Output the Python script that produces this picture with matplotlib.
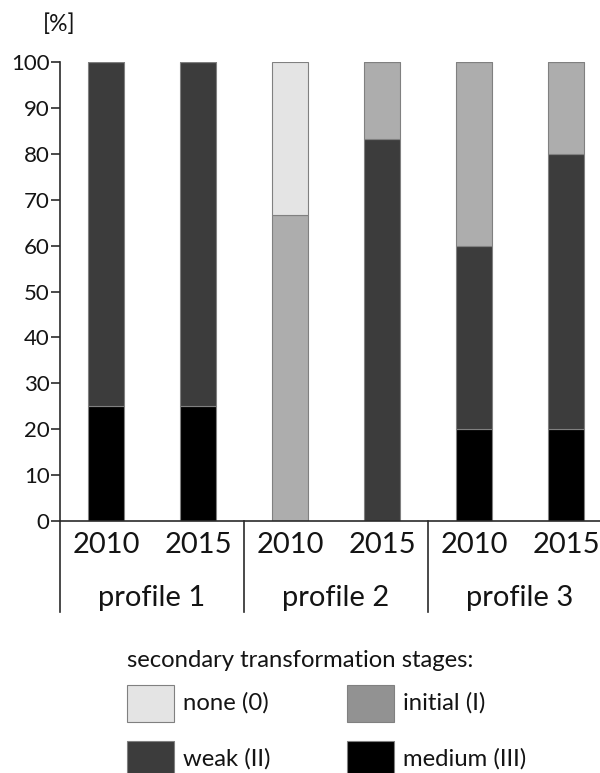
import matplotlib
matplotlib.use("Agg")
import matplotlib.pyplot as plt
from matplotlib.patches import Rectangle

plt.rcParams['font.family'] = ['Lato', 'DejaVu Sans']

# ---- data ----
profiles = ["profile 1", "profile 2", "profile 3"]
years = ["2010", "2015", "2010", "2015", "2010", "2015"]
stages = ["none (0)", "initial (I)", "weak (II)", "medium (III)"]
medium = [25, 25, 0, 0, 20, 20]
weak = [75, 75, 0, 83.3, 40, 60]
initial = [0, 0, 66.7, 16.7, 40, 20]
none = [0, 0, 33.3, 0, 0, 0]
yticks = [0, 10, 20, 30, 40, 50, 60, 70, 80, 90, 100]

bar_colors = {"none (0)": "#e4e4e4", "initial (I)": "#adadad",
              "weak (II)": "#3c3c3c", "medium (III)": "#000000"}
legend_colors = {"none (0)": "#e4e4e4", "initial (I)": "#929292",
                 "weak (II)": "#3c3c3c", "medium (III)": "#000000"}

W, H = 600, 773
fig = plt.figure(figsize=(W / 100, H / 100), dpi=100)
# axes: x from -0.5 (px 60) to 5.5 (px 612), y 0 (px 521) to 100 (px 62)
ax = fig.add_axes([60 / W, 1 - 521 / H, (612 - 60) / W, (521 - 62) / H])
ax.set_xlim(-0.5, 5.5)
ax.set_ylim(0, 100)

x = list(range(len(years)))
bw = 0.40
edge = dict(edgecolor="#808080", linewidth=0.8)
bottom = [0] * len(x)
for name, vals in [("medium (III)", medium), ("weak (II)", weak),
                   ("initial (I)", initial), ("none (0)", none)]:
    ax.bar(x, vals, bw, bottom=bottom, color=bar_colors[name], **edge, zorder=2)
    bottom = [b + v for b, v in zip(bottom, vals)]

axcol = "#2b2b2b"
txtcol = "#141414"
for s in ["top", "right"]:
    ax.spines[s].set_visible(False)
ax.spines["left"].set_color(axcol)
ax.spines["bottom"].set_color(axcol)
ax.spines["left"].set_linewidth(1.2)
ax.spines["bottom"].set_linewidth(1.2)
ax.spines["bottom"].set_bounds(-0.5, 5.5)

ax.set_yticks(yticks)
ax.set_yticklabels([str(t) for t in yticks], fontsize=16, color=txtcol)
ax.tick_params(axis="y", length=6.5, width=1.2, color=axcol, pad=1)
ax.set_xticks(x)
ax.set_xticklabels(years, fontsize=21, color=txtcol)
ax.tick_params(axis="x", length=0, pad=8)

# group separators below the axis
px_per_unit = (521 - 62) / 100
ybot = -(612 - 521) / px_per_unit
for sx in [-0.5, 1.5, 3.5, 5.5]:
    ax.plot([sx, sx], [0, ybot], color=axcol, lw=1.2, clip_on=False)

for g, p in enumerate(profiles):
    ax.text(2 * g + 0.5, -(598 - 521) / px_per_unit, p, ha="center", va="center",
            fontsize=21, color=txtcol, clip_on=False)

fig.text(59 / W, 1 - 24 / H, "[%]", ha="center", va="center", fontsize=16.5,
         color=txtcol)

# legend
fig.text(127 / W, 1 - 667 / H, "secondary transformation stages:", ha="left",
         va="baseline", fontsize=17.2, color=txtcol)
pos = [(127, 685), (347, 685), (127, 741), (347, 741)]
for name, (lx, ly) in zip(stages, pos):
    fig.patches.append(Rectangle((lx / W, 1 - (ly + 37) / H), 47 / W, 37 / H,
                                 transform=fig.transFigure,
                                 facecolor=legend_colors[name],
                                 edgecolor="#808080", linewidth=0.8))
    fig.text((lx + 56) / W, 1 - (ly + 25) / H, name, ha="left", va="baseline",
             fontsize=17.2, color=txtcol)

fig.savefig("out.png", dpi=100)
